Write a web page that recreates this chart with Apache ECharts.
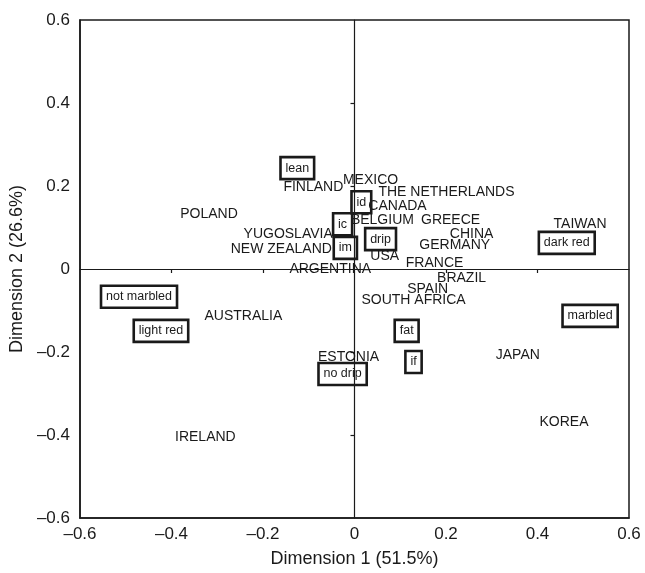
<!DOCTYPE html>
<html>
<head>
<meta charset="utf-8">
<script src="https://cdn.jsdelivr.net/npm/echarts@6/dist/echarts.min.js"></script>
<style>html,body{margin:0;padding:0;background:#fff}#c{width:645px;height:573px}</style>
</head>
<body>
<div id="c"></div>
<script>
// Countries (plain text labels)
const countryNames = ['FINLAND','POLAND','YUGOSLAVIA','NEW ZEALAND','ARGENTINA','MEXICO','THE NETHERLANDS','CANADA','BELGIUM','GREECE','CHINA','GERMANY','USA','FRANCE','BRAZIL','SPAIN','SOUTH AFRICA','TAIWAN','JAPAN','KOREA','ESTONIA','AUSTRALIA','IRELAND'];
const countryX = [-0.090,-0.318,-0.145,-0.160,-0.053,0.035,0.201,0.094,0.061,0.210,0.256,0.219,0.066,0.175,0.234,0.160,0.129,0.493,0.357,0.458,-0.013,-0.243,-0.326];
const countryY = [0.198,0.133,0.084,0.048,0.000,0.214,0.186,0.152,0.118,0.118,0.084,0.058,0.031,0.014,-0.022,-0.048,-0.075,0.108,-0.207,-0.369,-0.212,-0.113,-0.405];
// Attributes (boxed labels)
const attrNames = ['lean','ic','im','id','drip','dark red','marbled','fat','if','no drip','not marbled','light red'];
const attrX = [-0.125,-0.026,-0.020,0.015,0.057,0.464,0.515,0.114,0.129,-0.026,-0.471,-0.423];
const attrY = [0.243,0.108,0.051,0.161,0.072,0.063,-0.113,-0.149,-0.224,-0.253,-0.067,-0.149];
// Axis
const tickMin = -0.6, tickMax = 0.6, tickStep = 0.2;
const xTitle = 'Dimension 1 (51.5%)';
const yTitle = 'Dimension 2 (26.6%)';

const FONT = '"Liberation Sans", Arial, Helvetica, sans-serif';
const INK = '#1a1a1a';
const fmt = v => { const r = Math.round(v*10)/10; return r === 0 ? '0' : (r < 0 ? '\u2013' + Math.abs(r) : String(r)); };

const countryData = countryNames.map((n,i)=>({name:n, value:[countryX[i],countryY[i]]}));
const attrData = attrNames.map((n,i)=>({name:n, value:[attrX[i],attrY[i]]}));

const baseAxis = {type:'value', min:tickMin, max:tickMax, interval:tickStep, splitLine:{show:false}};
const chart = echarts.init(document.getElementById('c'), null, {renderer:'canvas'});
chart.setOption({
  backgroundColor:'#fff',
  animation:false,
  grid:{left:80, right:16, top:20, bottom:55, show:true, borderColor:INK, borderWidth:1.5, backgroundColor:'transparent'},
  xAxis:[
    Object.assign({}, baseAxis, {position:'bottom', axisLine:{onZero:false, lineStyle:{color:INK,width:1.5}}, axisTick:{show:false},
      axisLabel:{formatter:fmt, color:INK, fontSize:17, fontFamily:FONT, margin:8},
      name:xTitle, nameLocation:'middle', nameGap:32, nameTextStyle:{color:INK, fontSize:18, fontFamily:FONT, verticalAlign:'top'}}),
    Object.assign({}, baseAxis, {position:'bottom', axisLine:{onZero:true, lineStyle:{color:INK,width:1.2}},
      axisTick:{show:true, inside:false, length:4, lineStyle:{color:INK,width:1.2}, customValues:[-0.4,-0.2,0.2,0.4]}, axisLabel:{show:false}})
  ],
  yAxis:[
    Object.assign({}, baseAxis, {position:'left', axisLine:{onZero:false, lineStyle:{color:INK,width:1.5}}, axisTick:{show:false},
      axisLabel:{formatter:fmt, color:INK, fontSize:17, fontFamily:FONT, margin:10},
      name:yTitle, nameLocation:'middle', nameGap:46, nameRotate:90, nameTextStyle:{color:INK, fontSize:18, fontFamily:FONT}}),
    Object.assign({}, baseAxis, {position:'left', axisLine:{onZero:true, lineStyle:{color:INK,width:1.2}},
      axisTick:{show:true, inside:false, length:4, lineStyle:{color:INK,width:1.2}, customValues:[-0.4,-0.2,0.2,0.4]}, axisLabel:{show:false}})
  ],
  series:[
    {type:'scatter', xAxisIndex:0, yAxisIndex:0, symbolSize:0, data:countryData, silent:true,
      itemStyle:{opacity:1},
      label:{show:true, position:'inside', formatter:'{b}', color:INK, fontSize:14, fontFamily:FONT, textBorderWidth:0, opacity:1}},
    {type:'scatter', xAxisIndex:0, yAxisIndex:0, symbolSize:0, data:attrData, silent:true,
      itemStyle:{opacity:1},
      label:{show:true, position:'inside', formatter:'{b}', color:INK, fontSize:12.5, fontFamily:FONT, textBorderWidth:0, opacity:1,
        borderColor:INK, borderWidth:1.3, padding:[5,5,4,5], backgroundColor:'transparent'}}
  ]
});
</script>
</body>
</html>
